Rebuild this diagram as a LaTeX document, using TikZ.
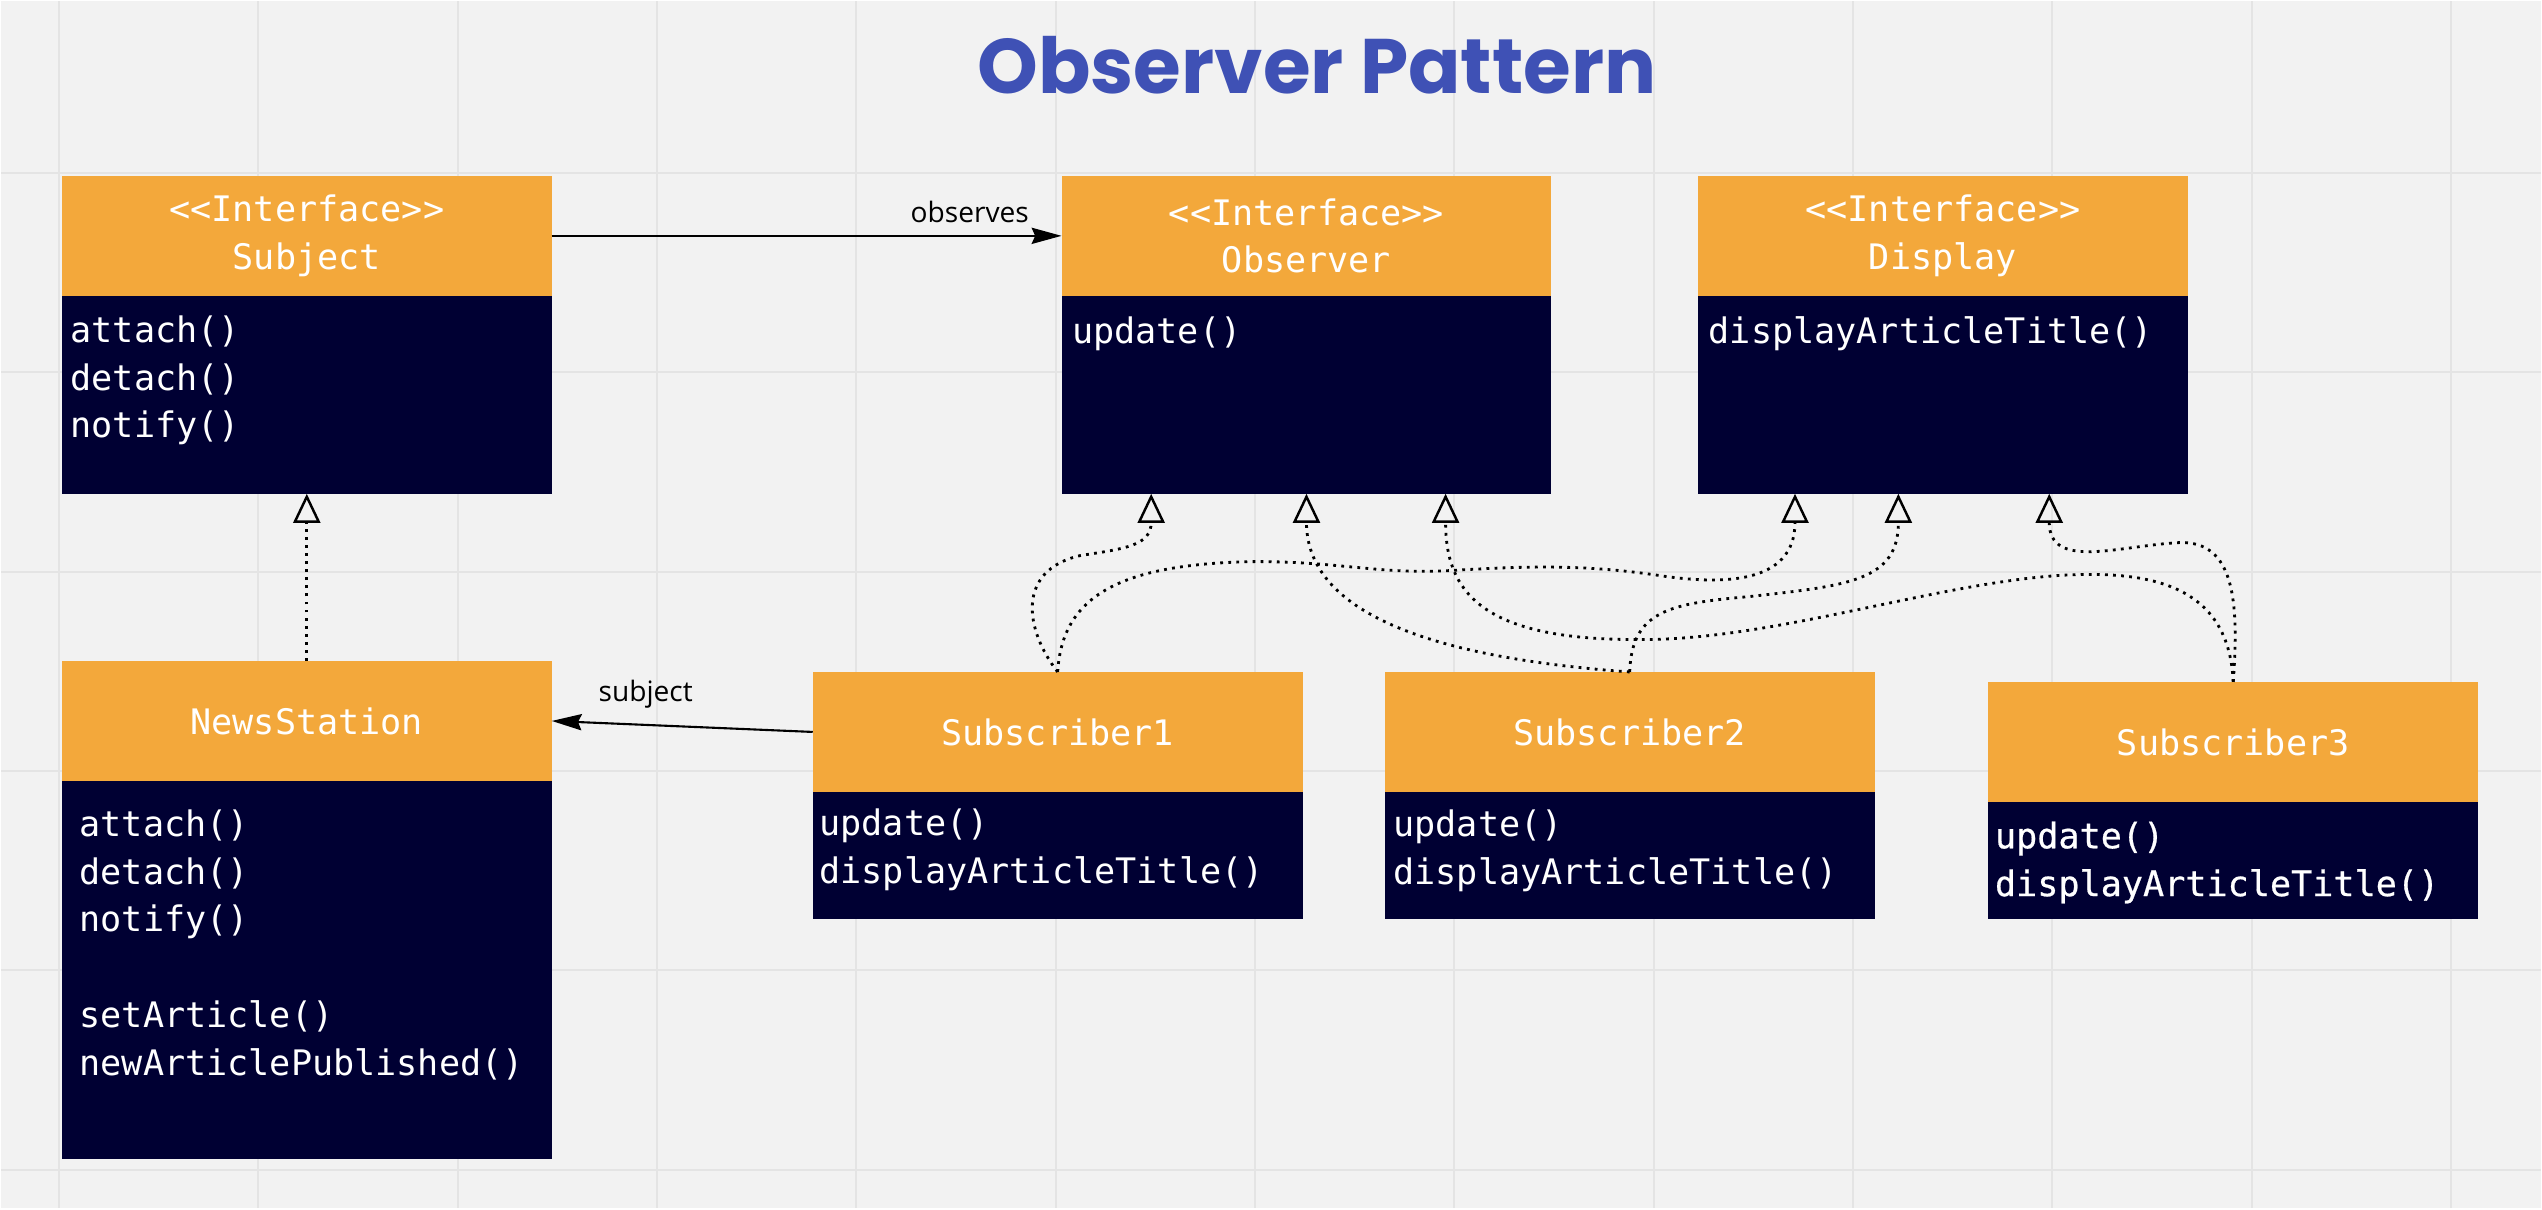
\documentclass[tikz,border=0pt]{standalone}
\usepackage{fontspec}
\setmonofont{DejaVu Sans Mono}
\newfontfamily\titlefont{Poppins}
\newfontfamily\labelfont{Open Sans}
\newfontfamily\heavymono{DejaVu Sans Mono}[FakeBold=0.6]
\usetikzlibrary{positioning}
\usetikzlibrary{arrows.meta}
\usetikzlibrary{calc}
\usepackage{xcolor}
\definecolor{canvas}{HTML}{F2F2F2}
\definecolor{gridline}{HTML}{E4E4E4}
\definecolor{headorange}{HTML}{F3A83B}
\definecolor{bodynavy}{HTML}{000033}
\definecolor{titleblue}{HTML}{3F51B5}

\begin{document}
\begin{tikzpicture}[
		x=0.01cm, y=-0.01cm,
		% Style definitions - class boxes in two parts
		classhead/.style={fill=headorange, minimum width=4.9cm, minimum height=1.2cm, inner sep=0pt, outer sep=0pt, align=center, text=white, font=\ttfamily\fontsize{10}{13.6}\selectfont},
		classbody/.style={fill=bodynavy, minimum width=4.9cm, inner sep=0pt, outer sep=0pt},
		methods/.style={anchor=north west, inner sep=0pt, align=left, text=white, font=\ttfamily\fontsize{10}{13.6}\selectfont},
		assoc/.style={-{Stealth[length=8.5pt, width=4.6pt, inset=1pt]}, line width=0.6pt},
		realize/.style={-{Triangle[open, length=8.3pt, width=7.7pt, line width=0.7pt]}, line width=0.8pt, dash pattern=on 0.8pt off 1.5pt},
		edgetext/.style={font=\labelfont\fontsize{8}{10}\selectfont, inner sep=0pt},
		% Parts of a class touch
		node distance=0pt,
		]
		% Canvas with grid
		\fill[canvas] (0,0) rectangle (2542,1208);
		\foreach \gx in {0,...,12}
			\draw[gridline, line width=0.6pt] ({58+199.5*\gx},0) -- ({58+199.5*\gx},1208);
		\foreach \gy in {0,...,5}
			\draw[gridline, line width=0.6pt] (0,{172+199.5*\gy}) -- (2542,{172+199.5*\gy});
		\useasboundingbox (0,0) rectangle (2542,1208);

		% Title
		\node[font=\titlefont\bfseries\fontsize{22}{26}\selectfont, text=titleblue] (title) at (1317,64) {Observer Pattern};

		% Row 1: interfaces
		\node[classhead] (subject) at (306,235) {<<Interface>>\\Subject};
		\node[classbody, minimum height=1.98cm, below=of subject] (subjectbody) {};
		\node[methods] (subjectops) at ($(subjectbody.north west)+(8,19)$) {attach()\\detach()\\notify()};

		\node[classhead] (observer) at (1306.5,235) {<<Interface>>\\Observer};
		\node[classbody, minimum height=1.98cm, below=of observer] (observerbody) {};
		\node[methods] (observerops) at ($(observerbody.north west)+(10,20)$) {update()};

		\node[classhead] (display) at (1943.5,235) {<<Interface>>\\Display};
		\node[classbody, minimum height=1.98cm, below=of display] (displaybody) {};
		\node[methods] (displayops) at ($(displaybody.north west)+(10,20)$) {displayArticleTitle()};

		% Row 2: concrete classes
		\node[classhead] (newsstation) at (306,720.5) {NewsStation};
		\node[classbody, minimum height=3.78cm, below=of newsstation] (newsstationbody) {};
		\node[methods] (newsstationops) at ($(newsstationbody.north west)+(17,28)$) {attach()\\detach()\\notify()\\[13.6pt]setArticle()\\newArticlePublished()};

		\node[classhead] (sub1) at (1057.5,731.5) {Subscriber1};
		\node[classbody, minimum height=1.27cm, below=of sub1] (sub1body) {};
		\node[methods] (sub1ops) at ($(sub1body.north west)+(6,16)$) {update()\\displayArticleTitle()};

		\node[classhead] (sub2) at (1630,731.5) {Subscriber2};
		\node[classbody, minimum height=1.27cm, below=of sub2] (sub2body) {};
		\node[methods] (sub2ops) at ($(sub2body.north west)+(8,17)$) {update()\\displayArticleTitle()};

		\node[classhead] (sub3) at (2234,741.5) {Subscriber3};
		\node[classbody, minimum height=1.17cm, below=of sub3] (sub3body) {};
		\node[methods, font=\heavymono\fontsize{10}{13.6}\selectfont] (sub3ops) at ($(sub3body.north west)+(6,19)$) {update()\\displayArticleTitle()};

		% Associations
		\draw[assoc] (subject.east) -- node[edgetext, pos=0.82, above=3.4pt] (observeslabel) {observes} (observer.west);
		\draw[assoc] (sub1.west) -- node[edgetext, pos=0.64, above=4.3pt] (subjectlabel) {subject} (newsstation.east);

		% Tips of the realizations
		\coordinate (obs1) at ($(observerbody.south west)!0.183!(observerbody.south east)$);
		\coordinate (obs2) at (observerbody.south);
		\coordinate (obs3) at ($(observerbody.south west)!0.784!(observerbody.south east)$);
		\coordinate (disp1) at ($(displaybody.south west)!0.198!(displaybody.south east)$);
		\coordinate (disp2) at ($(displaybody.south west)!0.409!(displaybody.south east)$);
		\coordinate (disp3) at ($(displaybody.south west)!0.717!(displaybody.south east)$);

		% Realizations - dotted, open triangle
		\draw[realize] (newsstation.north) -- (subjectbody.south);

		\draw[realize] (sub1.north) .. controls (1025,630) and (1015,570) .. (1080,555)
			.. controls (1125,548) and (obs1 |- 0,545) .. (obs1);
		\draw[realize] (sub1.north) .. controls (1062,595) and (1120,563) .. (1256,561)
			.. controls (1340,561) and (1380,574) .. (1450,570)
			.. controls (1520,566) and (1580,563) .. (1660,575)
			.. controls (1720,584) and (disp1 |- 0,585) .. (disp1);

		\draw[realize] (sub2.north) .. controls (1400,655) and (obs2 |- 0,600) .. (obs2);
		\draw[realize] (sub2.north) .. controls (1632,610) and (1670,603) .. (1750,596)
			.. controls (1850,585) and (disp2 |- 0,580) .. (disp2);

		\draw[realize] (sub3.north) .. controls (2230,590) and (2160,572) .. (2080,574)
			.. controls (1950,577) and (1780,640) .. (1640,639)
			.. controls (1480,640) and (obs3 |- 0,590) .. (obs3);
		\draw[realize] (sub3.north) .. controls (2240,600) and (2235,540) .. (2180,542)
			.. controls (2120,545) and (disp3 |- 0,570) .. (disp3);

	\end{tikzpicture}
\end{document}
